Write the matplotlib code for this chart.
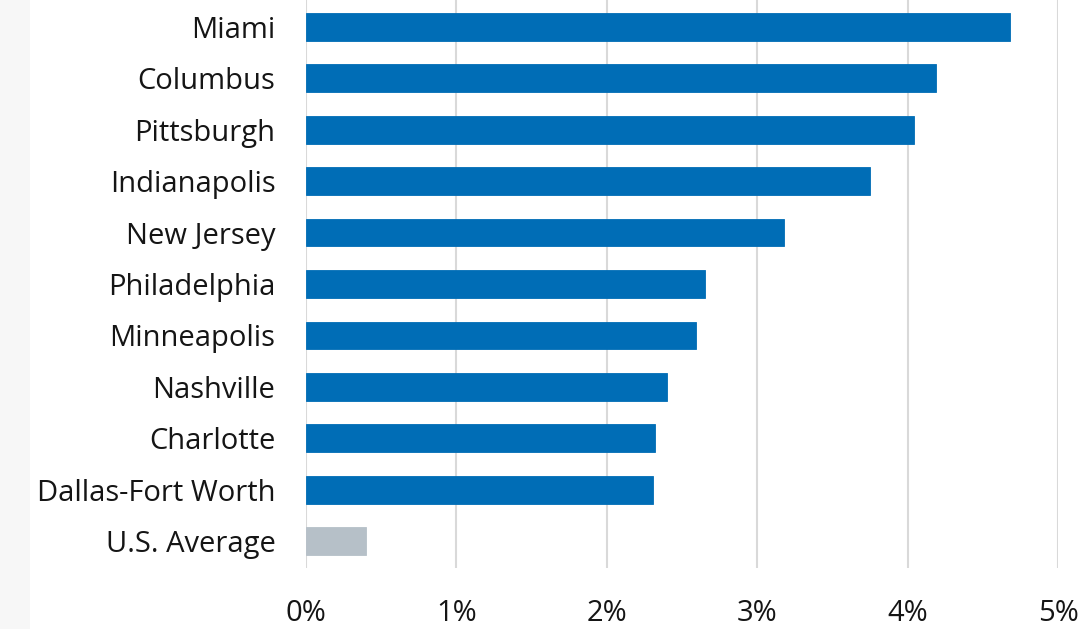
import matplotlib.pyplot as plt
from matplotlib.patches import Rectangle

cities = ['Miami', 'Columbus', 'Pittsburgh', 'Indianapolis', 'New Jersey',
          'Philadelphia', 'Minneapolis', 'Nashville', 'Charlotte',
          'Dallas-Fort Worth', 'U.S. Average']
values = [4.68, 4.19, 4.04, 3.75, 3.18, 2.65, 2.59, 2.40, 2.32, 2.31, 0.40]
x_ticks = [0, 1, 2, 3, 4, 5]
x_labels = ['0%', '1%', '2%', '3%', '4%', '5%']

plt.rcParams['font.family'] = ['Open Sans', 'DejaVu Sans']

fig = plt.figure(figsize=(10.92, 6.29), dpi=100)
fig.patches.append(Rectangle((0, 0), 30 / 1092, 1, transform=fig.transFigure,
                             facecolor='#f7f7f7', edgecolor='none', zorder=0))
ax = fig.add_axes([306 / 1092, 61 / 629, 752 / 1092, 568 / 629])

colors = ['#006db6'] * (len(cities) - 1) + ['#b6c0c8']
y = range(len(cities))
ax.barh(y, values, height=0.54, color=colors, edgecolor=colors, linewidth=0.6, zorder=3)

ax.set_xlim(0, 5)
ax.set_ylim(len(cities) - 0.48, -0.52)
ax.set_yticks(list(y))
ax.set_yticklabels(cities)
ax.set_xticks(x_ticks)
ax.set_xticklabels(x_labels)

ax.grid(axis='x', color='#d9d9d9', linewidth=1.5, zorder=0)
ax.tick_params(axis='both', length=0, labelsize=21, colors='#151515')
ax.tick_params(axis='y', pad=22)
ax.tick_params(axis='x', pad=22)
for s in ax.spines.values():
    s.set_visible(False)

fig.savefig('out.png', dpi=100)
